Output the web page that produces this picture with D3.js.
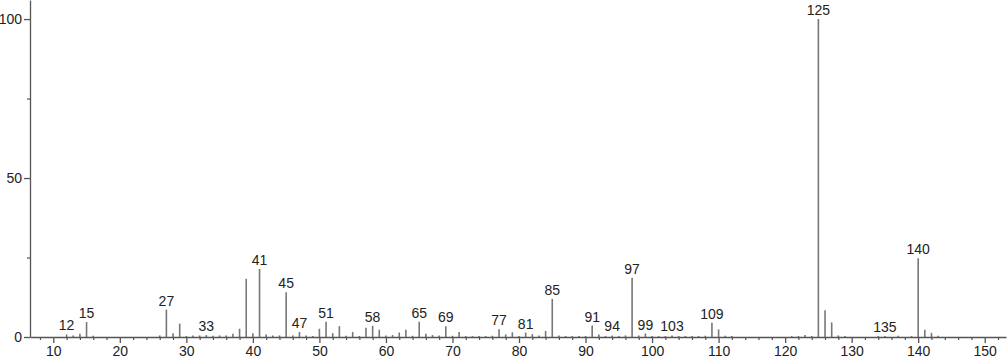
<!DOCTYPE html>
<html><head><meta charset="utf-8">
<script src="https://cdn.jsdelivr.net/npm/d3@7"></script>
<style>
html,body{margin:0;padding:0;background:#fff;}
svg{display:block;font-family:"Liberation Sans",Arial,sans-serif;}
</style></head>
<body>
<svg id="chart" width="1007" height="362"></svg>
<script>
const mzValues = [12,13,14,15,16,26,27,28,29,30,31,32,33,34,35,36,37,38,39,40,41,42,43,44,45,46,47,48,49,50,51,52,53,54,55,56,57,58,59,60,61,62,63,64,65,66,67,68,69,70,71,72,73,74,75,76,77,78,79,80,81,82,83,84,85,86,87,88,89,90,91,92,93,94,95,96,97,98,99,100,101,102,103,104,105,106,107,108,109,110,111,112,121,122,123,124,125,126,127,128,129,134,135,137,139,140,141,142,143];
const intensities = [0.8,0.5,1.0,4.7,0.4,0.5,8.6,1.2,4.2,0.3,0.5,0.5,0.6,0.4,0.5,0.5,1.0,2.6,18.3,1.2,21.4,0.8,0.5,0.5,14.1,0.5,1.6,0.5,0.3,2.6,4.8,1.2,3.4,0.4,1.6,0.3,2.9,3.5,2.3,0.5,0.6,1.4,2.3,0.4,4.8,1.0,0.6,0.5,3.4,0.4,1.6,0.3,0.3,0.3,0.3,0.4,2.4,0.8,1.5,0.3,1.4,0.9,0.5,1.9,12.0,0.5,0.3,0.3,0.3,0.3,3.6,0.8,0.3,0.5,0.3,0.5,18.6,0.5,1.1,0.3,0.3,0.3,0.5,0.3,0.3,0.3,0.3,0.4,4.5,2.4,0.4,0.3,0.3,0.3,0.6,0.3,100,8.4,4.6,0.5,0.3,0.3,0.3,0.4,0.3,24.8,2.3,1.3,0.4];
const labeledPeaks = [12,15,27,33,41,45,47,51,58,65,69,77,81,85,91,94,97,99,103,109,125,135,140];
const xTicks = [10,20,30,40,50,60,70,80,90,100,110,120,130,140,150];
const yTicks = [0,50,100];

const svg = d3.select("#chart");
const x = d3.scaleLinear().domain([6.5,153.2]).range([30,1006]);
const y = d3.scaleLinear().domain([0,106]).range([337,0]);
const axisColor = "#555";

const peaks = mzValues.map((m,i)=>({mz:m, v:intensities[i]}));

// peaks
svg.append("g").selectAll("line").data(peaks).join("line")
  .attr("x1",d=>x(d.mz)).attr("x2",d=>x(d.mz))
  .attr("y1",y(0)).attr("y2",d=>y(d.v))
  .attr("stroke","#777").attr("stroke-width",1.6);

// x axis
const xAxis = d3.axisBottom(x).tickValues(xTicks).tickSize(6).tickSizeOuter(0).tickPadding(3);
const gx = svg.append("g").attr("transform",`translate(0,${y(0)})`).call(xAxis);
gx.select(".domain").attr("stroke",axisColor).attr("stroke-width",1.3);
gx.selectAll(".tick line").attr("stroke",axisColor).attr("stroke-width",1.3);
gx.selectAll(".tick text").attr("fill","#222").style("font-size","14px").style("font-family","Liberation Sans, Arial, sans-serif");
const minorX = d3.range(8,154,2).filter(v=>v%10!==0);
svg.append("g").attr("transform",`translate(0,${y(0)})`)
  .call(d3.axisBottom(x).tickValues(minorX).tickSize(3).tickFormat(""))
  .call(g=>g.select(".domain").remove())
  .selectAll(".tick line").attr("stroke",axisColor).attr("stroke-width",1.2);

// y axis
const yAxis = d3.axisLeft(y).tickValues(yTicks).tickSize(6).tickSizeOuter(0).tickPadding(2);
const gy = svg.append("g").attr("transform",`translate(30,0)`).call(yAxis);
gy.select(".domain").attr("stroke",axisColor).attr("stroke-width",1.3);
gy.selectAll(".tick line").attr("stroke",axisColor).attr("stroke-width",1.3);
gy.selectAll(".tick text").attr("fill","#222").style("font-size","14px").style("font-family","Liberation Sans, Arial, sans-serif");
svg.append("g").attr("transform",`translate(30,0)`)
  .call(d3.axisLeft(y).tickValues([25,75]).tickSize(3).tickFormat(""))
  .call(g=>g.select(".domain").remove())
  .selectAll(".tick line").attr("stroke",axisColor).attr("stroke-width",1.2);

// peak labels
const lab = peaks.filter(d=>labeledPeaks.includes(d.mz));
svg.append("g").selectAll("text").data(lab).join("text")
  .attr("x",d=>x(d.mz)).attr("y",d=>y(d.v)-4)
  .attr("text-anchor","middle").attr("fill","#222")
  .style("font-size","14px")
  .text(d=>d.mz);
</script>
</body></html>
